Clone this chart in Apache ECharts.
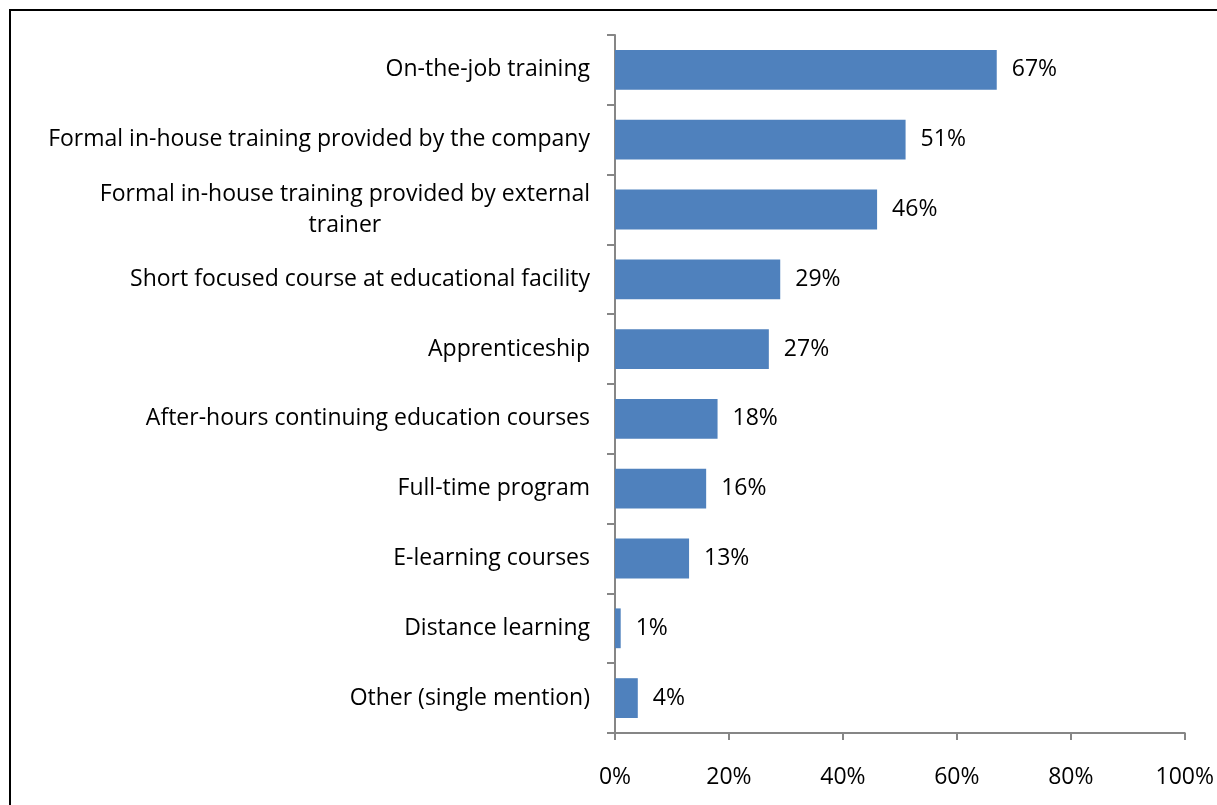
<!DOCTYPE html>
<html>
<head>
<meta charset="utf-8">
<script src="https://cdn.jsdelivr.net/npm/echarts@6/dist/echarts.min.js"></script>
<style>
  html, body { margin: 0; padding: 0; background: #fff; }
  #chart { position: absolute; left: 0; top: 0; width: 1217px; height: 805px; }
  .frame { position: absolute; left: 9px; top: 9px; right: 0; bottom: 0; border-top: 2px solid #000; border-left: 2px solid #000; pointer-events: none; }
</style>
</head>
<body>
<div id="chart"></div>
<div class="frame"></div>
<script>
const categories = [
  'On-the-job training',
  'Formal in-house training provided by the company',
  'Formal in-house training provided by external trainer',
  'Short focused course at educational facility',
  'Apprenticeship',
  'After-hours continuing education courses',
  'Full-time program',
  'E-learning courses',
  'Distance learning',
  'Other (single mention)',
]
const values = [67, 51, 46, 29, 27, 18, 16, 13, 1, 4]
const xTicks = [0, 20, 40, 60, 80, 100]

const fontFamily = 'Open Sans, Liberation Sans, sans-serif'
const fontSize = 23
const axisColor = '#868686'

// wrap long category names onto two lines, centred like the original
const wrapLabel = (text) => {
  const maxChars = 48
  if (text.length <= maxChars)
    return text
  const cut = text.lastIndexOf(' ', maxChars)
  return `{c|${text.slice(0, cut)}}\n{c|${text.slice(cut + 1)}}`
}

const chart = echarts.init(document.getElementById('chart'))
const option = {
  animation: false,
  textStyle: { fontFamily },
  grid: {
    left: 615,
    right: 31,
    top: 35,
    bottom: 72,
  },
  xAxis: {
    type: 'value',
    min: xTicks[0],
    max: xTicks[xTicks.length - 1],
    interval: 20,
    splitLine: { show: false },
    axisLine: { show: true, lineStyle: { color: axisColor, width: 2 } },
    axisTick: { show: true, length: 7, lineStyle: { color: axisColor, width: 2 } },
    axisLabel: {
      margin: 33,
      color: '#000',
      fontSize,
      fontFamily,
      formatter: v => `${v}%`,
    },
  },
  yAxis: {
    type: 'category',
    inverse: true,
    data: categories,
    axisLine: { show: true, lineStyle: { color: axisColor, width: 2 } },
    axisTick: { show: true, length: 8, lineStyle: { color: axisColor, width: 2 } },
    axisLabel: {
      margin: 25,
      color: '#000',
      fontSize,
      fontFamily,
      lineHeight: 31,
      formatter: wrapLabel,
      rich: {
        c: { align: 'center', fontSize, fontFamily, color: '#000', lineHeight: 31 },
      },
    },
  },
  series: [{
    type: 'bar',
    data: values,
    barCategoryGap: '43%',
    itemStyle: { color: '#4F81BD' },
    label: {
      show: true,
      position: 'right',
      distance: 15,
      color: '#000',
      fontSize,
      fontFamily,
      formatter: p => `${p.value}%`,
    },
  }],
}
chart.setOption(option)
</script>
</body>
</html>
